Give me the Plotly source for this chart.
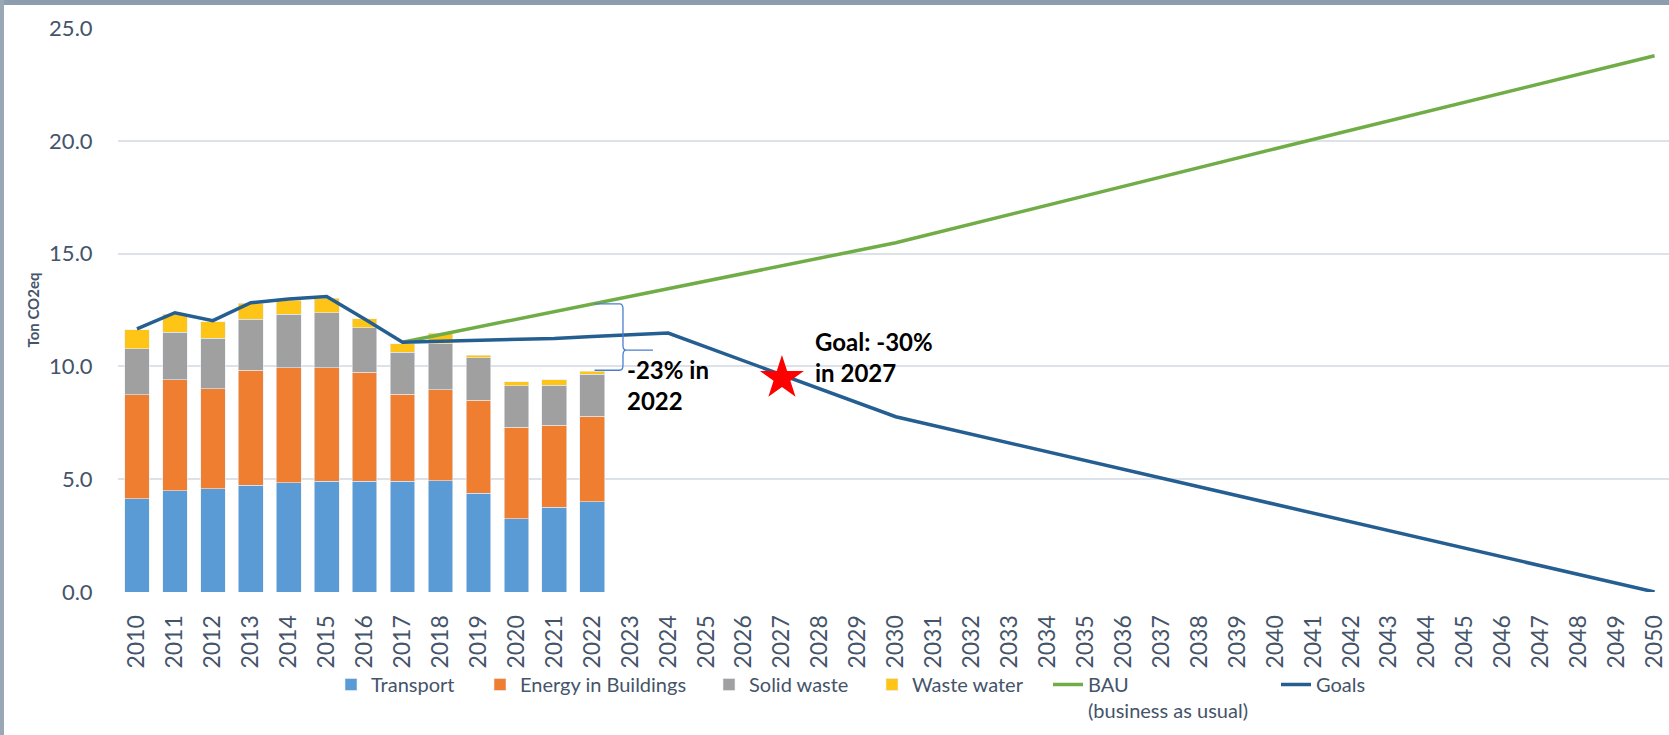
import plotly.graph_objects as go

# measured emissions per sector (ton CO2eq)
years = list(range(2010, 2023))
transport = [4.13, 4.49, 4.57, 4.74, 4.84, 4.90, 4.90, 4.90, 4.93, 4.38, 3.24, 3.75, 4.01]
energy_buildings = [4.62, 4.92, 4.44, 5.10, 5.09, 5.03, 4.84, 3.86, 4.04, 4.11, 4.07, 3.65, 3.78]
solid_waste = [2.04, 2.10, 2.24, 2.26, 2.38, 2.44, 1.97, 1.87, 2.03, 1.89, 1.84, 1.76, 1.86]
waste_water = [0.84, 0.81, 0.74, 0.71, 0.63, 0.66, 0.41, 0.38, 0.47, 0.11, 0.16, 0.25, 0.13]

# business as usual trajectory
bau_years = [2017, 2022, 2030, 2040, 2050]
bau = [11.07, 12.77, 15.48, 19.65, 23.77]

# goals trajectory
goal_years = list(range(2010, 2025)) + [2030, 2050]
goals = [11.66, 12.38, 12.03, 12.82, 12.99, 13.10, 12.10, 11.07, 11.12, 11.16,
         11.20, 11.24, 11.32, 11.40, 11.48, 7.77, 0.0]

goal_mark_year = 2027
goal_mark_value = 9.48

tick_years = list(range(2010, 2051))
tick_labels = [str(y) for y in tick_years]

FONT = "Lato"
TEXT_COLOR = "#44546A"
GRID = "#DDE2E9"

W, H = 1669, 735
L, R, T, B = 118, 0, 28, 143
PW = W - L - R
PH = H - T - B


def px_x(p):
    return (p - L) / PW


def px_y(p):
    return (H - B - p) / PH


fig = go.Figure()

sectors = [
    ("Transport", transport, "#5B9BD5", "legend"),
    ("Energy in Buildings", energy_buildings, "#EF7E31", "legend2"),
    ("Solid waste", solid_waste, "#A0A0A0", "legend3"),
    ("Waste water", waste_water, "#FFC516", "legend4"),
]
for name, vals, color, leg in sectors:
    fig.add_trace(
        go.Bar(
            x=years,
            y=vals,
            name=name,
            width=0.65,
            marker=dict(color=color, line=dict(width=0.6, color="#E8EEF6")),
            legend=leg,
        )
    )

fig.add_trace(
    go.Scatter(
        x=bau_years,
        y=bau,
        name="BAU<br>(business as usual)",
        mode="lines",
        line=dict(color="#70AD47", width=3.5),
        legend="legend5",
    )
)
fig.add_trace(
    go.Scatter(
        x=goal_years,
        y=goals,
        name="Goals",
        mode="lines",
        line=dict(color="#255E91", width=3.5),
        legend="legend6",
    )
)
fig.add_trace(
    go.Scatter(
        x=[goal_mark_year],
        y=[goal_mark_value],
        mode="markers",
        marker=dict(symbol="star", size=33, color="#FF0000", line=dict(width=0)),
        showlegend=False,
    )
)

# curly brace between BAU and actual 2022 emissions
top = bau[bau_years.index(2022)]
bot = sum(v[-1] for v in (transport, energy_buildings, solid_waste, waste_water)) + 0.05
tip = 10.72
xa, xb, xs, xc, xt = 2022.06, 2022.72, 2022.81, 2022.90, 2023.60
r = 0.22
brace = (
    f"M {xa},{top} L {xb},{top} Q {xs},{top} {xs},{top - r} "
    f"L {xs},{tip + r} Q {xs},{tip} {xc},{tip} L {xt},{tip} "
    f"M {xc},{tip} Q {xs},{tip} {xs},{tip - r} "
    f"L {xs},{bot + r} Q {xs},{bot} {xb},{bot} L {xa},{bot}"
)
fig.add_shape(type="path", path=brace, xref="x", yref="y",
              line=dict(color="#4A7FD0", width=1.3))

# photo frame strips of the slide behind the chart
fig.add_shape(type="rect", xref="paper", yref="paper",
              x0=px_x(0), x1=px_x(W), y0=px_y(5), y1=px_y(0),
              line=dict(width=0), fillcolor="#8E9DAE", layer="below")
fig.add_shape(type="rect", xref="paper", yref="paper",
              x0=px_x(0), x1=px_x(4), y0=px_y(H), y1=px_y(0),
              line=dict(width=0), fillcolor="#9AA7B5", layer="below")

fig.add_annotation(
    x=2022.85, y=9.17, xref="x", yref="y",
    text="<b>-23% in<br>2022</b>", showarrow=False,
    xanchor="left", yanchor="middle", align="left",
    font=dict(family=FONT, size=24, color="#000000"),
)
fig.add_annotation(
    x=2027.83, y=10.40, xref="x", yref="y",
    text="<b>Goal: -30%<br>in 2027</b>", showarrow=False,
    xanchor="left", yanchor="middle", align="left",
    font=dict(family=FONT, size=24, color="#000000"),
)

leg_font = dict(family=FONT, size=20, color=TEXT_COLOR)
leg_y = px_y(665)
leg_common = dict(orientation="h", yanchor="top", xanchor="left", y=leg_y,
                  font=leg_font, bgcolor="rgba(0,0,0,0)", valign="top")
text_starts = [371, 520, 749, 912, 1088, 1316]
legends = {}
for i, xs_ in enumerate(text_starts):
    key = "legend" if i == 0 else f"legend{i + 1}"
    legends[key] = dict(x=px_x(xs_ - 40), **leg_common)

fig.update_layout(
    width=W,
    height=H,
    margin=dict(l=L, r=R, t=T, b=B),
    paper_bgcolor="white",
    plot_bgcolor="white",
    barmode="stack",
    font=dict(family=FONT, color=TEXT_COLOR),
    xaxis=dict(
        range=[2009.5, 2009.5 + PW / 37.94],
        tickmode="array",
        tickvals=tick_years,
        ticktext=tick_labels,
        tickangle=-90,
        tickfont=dict(family=FONT, size=23, color=TEXT_COLOR),
        ticks="outside",
        ticklen=13,
        tickcolor="rgba(0,0,0,0)",
        showgrid=False,
        zeroline=False,
        showline=False,
    ),
    yaxis=dict(
        range=[0, 25],
        tickvals=[0, 5, 10, 15, 20, 25],
        ticktext=["0.0", "5.0", "10.0", "15.0", "20.0", "25.0"],
        tickfont=dict(family=FONT, size=22, color=TEXT_COLOR),
        ticks="outside",
        ticklen=20,
        tickcolor="rgba(0,0,0,0)",
        showgrid=True,
        gridcolor=GRID,
        gridwidth=1.5,
        zeroline=False,
        title=dict(text="<b>Ton CO2eq</b>", standoff=5,
                   font=dict(family=FONT, size=15, color=TEXT_COLOR)),
    ),
    **legends,
)

fig.write_html(
    "out.html",
    config={"displayModeBar": False},
    post_script="document.body.style.margin='0';",
)
